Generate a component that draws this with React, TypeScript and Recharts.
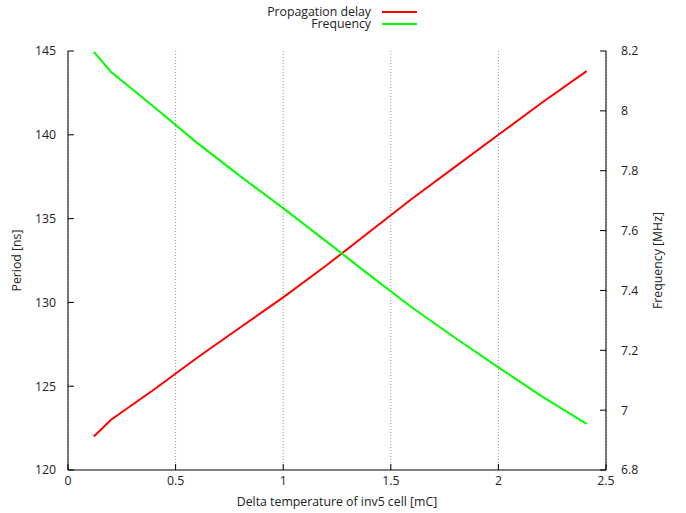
import React from "react";
import { LineChart, Line, XAxis, YAxis, CartesianGrid } from "recharts";

const temps = [0.12, 0.2, 0.4, 0.6, 0.8, 1.0, 1.2, 1.4, 1.6, 1.8, 2.0, 2.2, 2.41];
const periodNs = [122.0, 123.0, 124.8, 126.7, 128.5, 130.3, 132.2, 134.2, 136.2, 138.1, 140.0, 141.9, 143.8];
const freqMHz = [8.197, 8.13, 8.013, 7.893, 7.782, 7.675, 7.564, 7.452, 7.342, 7.241, 7.143, 7.047, 6.954];

const xTicks = [0, 0.5, 1, 1.5, 2, 2.5];
const periodTicks = [120, 125, 130, 135, 140, 145];
const freqTicks = [6.8, 7, 7.2, 7.4, 7.6, 7.8, 8, 8.2];

const data = temps.map((t, i) => ({ t, period: periodNs[i], freq: freqMHz[i] }));

const FONT = "'Open Sans', sans-serif";
const tickStyle = { fontSize: 12.3, fill: "#222", fontFamily: FONT };

function Legend() {
  return (
    <svg width={686} height={40} style={{ position: "absolute", left: 0, top: 0 }}>
      <g fontFamily={FONT} fontSize={12.3} fill="#222">
        <text x={371} y={16} textAnchor="end">Propagation delay</text>
        <line x1={382} x2={417} y1={12} y2={12} stroke="#ff0000" strokeWidth={2} />
        <text x={371} y={28} textAnchor="end">Frequency</text>
        <line x1={382} x2={417} y1={24} y2={24} stroke="#00ff00" strokeWidth={2} />
      </g>
    </svg>
  );
}

export default function App() {
  return (
    <div style={{ position: "absolute", left: 0, top: 0, width: 686, height: 513, background: "#fff" }}>
      <LineChart
        width={686}
        height={513}
        data={data}
        margin={{ top: 51, right: 0, bottom: 0, left: 0 }}
      >
        <CartesianGrid horizontal={false} stroke="#999" strokeDasharray="1 2" yAxisId="left" />
        <XAxis
          dataKey="t"
          type="number"
          domain={[0, 2.5]}
          ticks={xTicks}
          height={43}
          tickSize={-6}
          tickMargin={12}
          stroke="#000"
          tick={tickStyle}
          label={{ value: "Delta temperature of inv5 cell [mC]", position: "insideBottom", offset: 7, style: tickStyle }}
        />
        <XAxis
          xAxisId="top"
          orientation="top"
          dataKey="t"
          type="number"
          domain={[0, 2.5]}
          ticks={xTicks}
          height={0}
          tickSize={-6}
          stroke="#000"
          tick={false}
        />
        <YAxis
          yAxisId="left"
          domain={[120, 145]}
          ticks={periodTicks}
          width={68}
          tickSize={-6}
          tickMargin={18}
          stroke="#000"
          tick={tickStyle}
          label={{ value: "Period [ns]", angle: -90, position: "insideLeft", offset: 17, style: { ...tickStyle, textAnchor: "middle" } }}
        />
        <YAxis
          yAxisId="right"
          orientation="right"
          domain={[6.8, 8.2]}
          ticks={freqTicks}
          width={80}
          tickSize={-6}
          tickMargin={21}
          stroke="#000"
          tick={tickStyle}
          label={{ value: "Frequency [MHz]", angle: -90, position: "insideRight", offset: 28, style: { ...tickStyle, textAnchor: "middle" } }}
        />
        <Line
          yAxisId="left"
          type="linear"
          dataKey="period"
          stroke="#ff0000"
          strokeWidth={2}
          dot={false}
          isAnimationActive={false}
        />
        <Line
          yAxisId="right"
          type="linear"
          dataKey="freq"
          stroke="#00ff00"
          strokeWidth={2}
          dot={false}
          isAnimationActive={false}
        />
      </LineChart>
      <Legend />
    </div>
  );
}
